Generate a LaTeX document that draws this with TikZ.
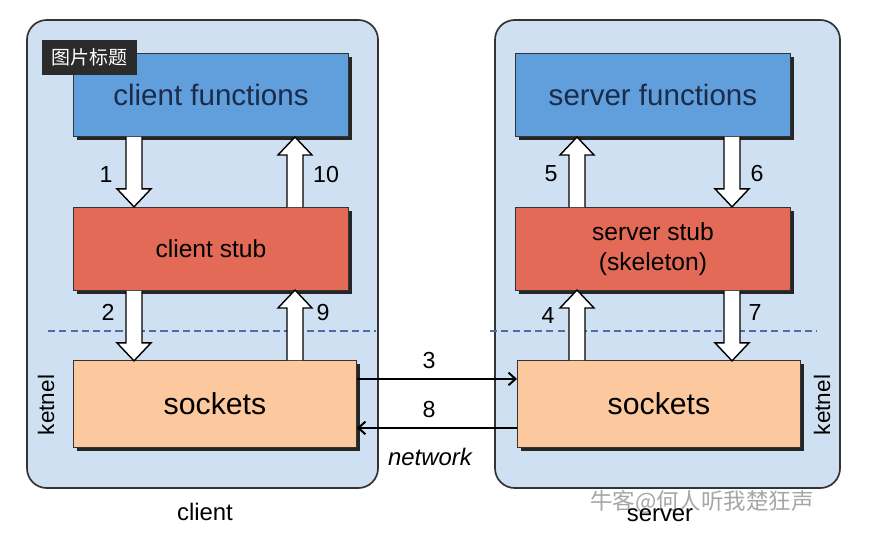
\documentclass[tikz,border=0pt]{standalone}
\usepackage{fontspec}
\setmainfont{Liberation Sans}
\newfontfamily\cjk{Noto Sans CJK SC}
\usetikzlibrary{arrows.meta, positioning, calc, shadows}
\definecolor{sidebg}{HTML}{CFE0F2}
\definecolor{func}{HTML}{609FDC}
\definecolor{funtext}{HTML}{1B2B48}
\definecolor{stub}{HTML}{E26A56}
\definecolor{sock}{HTML}{FBC99D}
\definecolor{layerline}{HTML}{4F6EA8}
\definecolor{caption}{HTML}{2B2B2B}

\begin{document}
\begin{tikzpicture}[x=0.025cm, y=-0.025cm,
    side/.style={draw=black!80, line width=1.2pt, rounded corners=14pt, fill=sidebg},
    layer/.style={draw=black!80, line width=0.6pt, anchor=north west, inner sep=0pt,
        drop shadow={shadow xshift=2.4pt, shadow yshift=-2.4pt, opacity=1, fill=black!85}},
    func box/.style={layer, fill=func, minimum width=6.875cm, minimum height=2.075cm, text=funtext, font=\fontsize{21}{24}\selectfont},
    stub box/.style={layer, fill=stub, minimum width=6.875cm, minimum height=2.075cm, align=center, font=\fontsize{17.5}{21}\selectfont},
    sock box/.style={layer, fill=sock, minimum width=7.075cm, minimum height=2.175cm, font=\fontsize{21.5}{24}\selectfont},
    num/.style={font=\fontsize{16.5}{18}\selectfont},
    net/.style={-{Straight Barb[length=5pt, width=9pt]}, line width=1.4pt},
    kernel/.style={rotate=90, font=\fontsize{16}{18}\selectfont},
    divider/.style={dashed, dash pattern=on 5pt off 3pt, line width=1.1pt, layerline},
    fat down/.pic={\draw[fill=white, line width=1pt] (-8,0) -- (-8,52) -- (-17,52) -- (0,70) -- (17,52) -- (8,52) -- (8,0);},
    fat up/.pic={\draw[fill=white, line width=1pt] (-8,0) -- (-8,-52) -- (-17,-52) -- (0,-70) -- (17,-52) -- (8,-52) -- (8,0);},
]
\useasboundingbox (0,0) rectangle (880,540);

% Client and server sides
\draw[side] (27,20) rectangle (378,488);
\draw[side] (495,20) rectangle (840,488);

% Kernel boundary
\draw[divider] (48,331) -- (376,331);
\draw[divider] (490,331) -- (817,331);

% Client layers
\node[func box] (cf) at (73,53) {client functions};
\node[stub box] (cs) at (73,207) {client stub};
\node[sock box] (ck) at (73,360) {sockets};

% Server layers
\node[func box] (sf) at (515,53) {server functions};
\node[stub box] (ss) at (515,207) {server stub\\(skeleton)};
\node[sock box] (sk) at (517,360) {sockets};

% Caption tag
\node[fill=caption, text=white, anchor=north west, minimum width=2.375cm, minimum height=0.875cm,
    inner sep=0pt, font=\cjk\fontsize{13.5}{15}\selectfont] (tag) at (42,40) {图片标题};

% Calls between layers
\pic at (134,0 |- cf.south) {fat down};
\pic at (295,0 |- cs.north) {fat up};
\pic at (134,0 |- cs.south) {fat down};
\pic at (295,0 |- ck.north) {fat up};
\pic at (577,0 |- ss.north) {fat up};
\pic at (732,0 |- sf.south) {fat down};
\pic at (577,0 |- sk.north) {fat up};
\pic at (732,0 |- ss.south) {fat down};

% Step numbers
\node[num] (n1) at (106,175) {1};
\node[num] (n10) at (326,175) {10};
\node[num] (n2) at (108,312) {2};
\node[num] (n9) at (323,313) {9};
\node[num] (n5) at (551,174) {5};
\node[num] (n6) at (757,174) {6};
\node[num] (n4) at (548,316) {4};
\node[num] (n7) at (755,313) {7};

% Network messages
\draw[net] ($(ck.east)+(0,-25)$) -- node[num, pos=0.45, above=3pt] (n3) {3} ($(sk.west)+(0,-25)$);
\draw[net] ($(sk.west)+(0,24)$) -- node[num, pos=0.55, above=3pt] (n8) {8} ($(ck.east)+(0,24)$);
\node[font=\itshape\fontsize{17}{19}\selectfont] (netw) at (430,457) {network};

% Kernel labels
\node[kernel] (kc) at (46,405) {ketnel};
\node[kernel] (ks) at (822,405) {ketnel};

% Side labels
\node[text=black!35, font=\cjk\fontsize{16}{18}\selectfont] (mark) at (702,502) {牛客@何人听我楚狂声};
\node[font=\fontsize{17}{19}\selectfont] (cl) at (205,512) {client};
\node[font=\fontsize{17}{19}\selectfont] (sv) at (660,515) {server};

\end{tikzpicture}
\end{document}
